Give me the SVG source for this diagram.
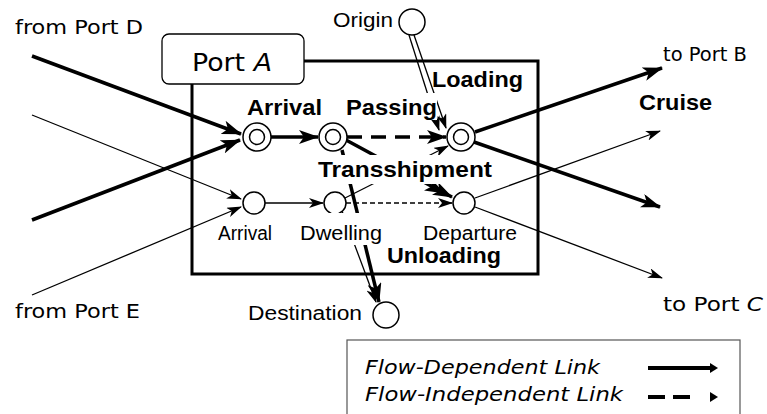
<svg xmlns="http://www.w3.org/2000/svg" width="767" height="414" viewBox="0 0 767 414">
<style>
.thick{fill:none;stroke:#000;stroke-width:3.5}
.thin{fill:none;stroke:#000;stroke-width:1.3}
.dash1{stroke-dasharray:15 9}
.dash2{stroke-dasharray:5 3}
.node{fill:#fff;stroke:#000;stroke-width:1.5}
.comic{font-family:"DejaVu Sans",sans-serif;font-size:19px;fill:#000}
.lab{font-family:"Liberation Sans",Arial,sans-serif;font-size:20px;fill:#000}
.bold{font-family:"Liberation Sans",Arial,sans-serif;font-size:22px;font-weight:bold;fill:#000}
.bg{fill:#fff;stroke:none}
</style>
<defs>
<marker id="ahT" viewBox="0 0 20 14" refX="19" refY="7" markerWidth="20" markerHeight="14" markerUnits="userSpaceOnUse" orient="auto"><path d="M0,0 L20,7 L0,14 L5,7 Z" fill="#000"/></marker>
<marker id="ahN" viewBox="0 0 15 10" refX="14" refY="5" markerWidth="15" markerHeight="10" markerUnits="userSpaceOnUse" orient="auto"><path d="M0,0 L15,5 L0,10 L4,5 Z" fill="#000"/></marker>
</defs>
<rect width="767" height="414" fill="#fff"/>

<g id="portA">
<path d="M304,61 H538 V274 H192 V84" fill="none" stroke="#000" stroke-width="3"/>
<rect x="162" y="34" width="142" height="50" rx="7" fill="#fff" stroke="#000" stroke-width="1.3"/>
<text class="comic" x="192" y="71" style="font-size:25px" textLength="80" lengthAdjust="spacingAndGlyphs">Port <tspan font-style="italic">A</tspan></text>
</g>

<g id="connectors">
<path class="thick" d="M32,56 L241,134" marker-end="url(#ahT)"/>
<path class="thick" d="M32,220 L240,140" marker-end="url(#ahT)"/>
<path class="thin" d="M32,115 L241,199" marker-end="url(#ahN)"/>
<path class="thin" d="M32,295 L241,207" marker-end="url(#ahN)"/>
<path class="thick" d="M271,137 L318,137" marker-end="url(#ahT)"/>
<path class="thick dash1" d="M347,137 L446,137" marker-end="url(#ahT)"/>
<path class="thin" d="M265,203 L323,203" marker-end="url(#ahN)"/>
<path class="thin dash2" d="M346,203 L452,203" marker-end="url(#ahN)"/>
<path class="thick" d="M475,132 L662,68" marker-end="url(#ahT)"/>
<path class="thick" d="M474,142 L660,207" marker-end="url(#ahT)"/>
<path class="thin" d="M475,198 L660,131" marker-end="url(#ahN)"/>
<path class="thin" d="M475,207 L662,278" marker-end="url(#ahN)"/>
<path class="thick" d="M346,140 L444,193 L452,197" marker-mid="url(#ahT)" marker-end="url(#ahT)"/>
<path class="thin" d="M345,198 L448,146" stroke-width="1.5" marker-end="url(#ahN)"/>
<path class="thick" d="M342,150 L379,302" stroke-width="3" marker-end="url(#ahT)"/>
<path class="thin" d="M342,211 L376,302" stroke-width="1.5" marker-end="url(#ahN)"/>
<path class="thin" d="M409,35 L439,130" stroke-width="2" marker-end="url(#ahN)"/>
<path class="thin" d="M414,35 L446,128" stroke-width="2" marker-end="url(#ahN)"/>
</g>

<g id="link-labels">
<rect class="bg" x="314" y="155" width="181" height="29"/>
<text class="bold" x="318" y="177" textLength="174" lengthAdjust="spacingAndGlyphs">Transshipment</text>
<text class="bold" x="432" y="87" textLength="91" lengthAdjust="spacingAndGlyphs">Loading</text>
<text class="bold" x="387" y="263" textLength="114" lengthAdjust="spacingAndGlyphs">Unloading</text>
<text class="bold" x="639" y="110" textLength="73" lengthAdjust="spacingAndGlyphs">Cruise</text>
</g>

<g id="node-arrival-flow">
<circle class="node" cx="257" cy="137" r="14"/>
<circle class="node" cx="257" cy="137" r="7.5"/>
<text class="bold" x="247" y="115" textLength="75" lengthAdjust="spacingAndGlyphs">Arrival</text>
</g>
<g id="node-passing">
<circle class="node" cx="333" cy="137" r="14"/>
<circle class="node" cx="333" cy="137" r="7.5"/>
<rect class="bg" x="344" y="93" width="93" height="27"/>
<text class="bold" x="346" y="115" textLength="91" lengthAdjust="spacingAndGlyphs">Passing</text>
</g>
<g id="node-loading">
<circle class="node" cx="461" cy="137" r="14"/>
<circle class="node" cx="461" cy="137" r="7.5"/>
</g>
<g id="node-arrival">
<circle class="node" cx="254" cy="203" r="11"/>
<text class="lab" x="218" y="240" textLength="54" lengthAdjust="spacingAndGlyphs">Arrival</text>
</g>
<g id="node-dwelling">
<circle class="node" cx="335" cy="203" r="11"/>
<rect class="bg" x="297" y="213" width="88" height="32"/>
<text class="lab" x="300" y="240" textLength="82" lengthAdjust="spacingAndGlyphs">Dwelling</text>
</g>
<g id="node-departure">
<circle class="node" cx="464" cy="203" r="11"/>
<text class="lab" x="423" y="240" textLength="94" lengthAdjust="spacingAndGlyphs">Departure</text>
</g>
<g id="node-origin">
<circle class="node" cx="412" cy="22" r="13"/>
<text class="lab" x="333" y="27" textLength="60" lengthAdjust="spacingAndGlyphs">Origin</text>
</g>
<g id="node-destination">
<circle class="node" cx="386" cy="315" r="13"/>
<text class="lab" x="248" y="320" textLength="114" lengthAdjust="spacingAndGlyphs">Destination</text>
</g>

<g id="port-labels">
<text class="comic" x="15" y="34" textLength="128" lengthAdjust="spacingAndGlyphs">from Port D</text>
<text class="comic" x="15" y="318" textLength="125" lengthAdjust="spacingAndGlyphs">from Port E</text>
<text class="comic" x="663" y="61" textLength="84" lengthAdjust="spacingAndGlyphs">to Port B</text>
<text class="comic" x="663" y="311" textLength="100" lengthAdjust="spacingAndGlyphs">to Port <tspan font-style="italic">C</tspan></text>
</g>

<g id="legend">
<rect x="347" y="340" width="393" height="90" fill="#fff" stroke="#555" stroke-width="1.2"/>
<text class="comic" x="365" y="374" font-style="italic" textLength="235" lengthAdjust="spacingAndGlyphs">Flow-Dependent Link</text>
<text class="comic" x="365" y="401" font-style="italic" textLength="258" lengthAdjust="spacingAndGlyphs">Flow-Independent Link</text>
<path d="M648,368 H711" stroke="#000" stroke-width="4"/>
<path d="M710,363 L718,368 L710,373 Z" fill="#000"/>
<path d="M648,397 H690" stroke="#000" stroke-width="4" stroke-dasharray="17 8"/>
<path d="M710,392 L718,397 L710,402 Z" fill="#000"/>
</g>
</svg>
